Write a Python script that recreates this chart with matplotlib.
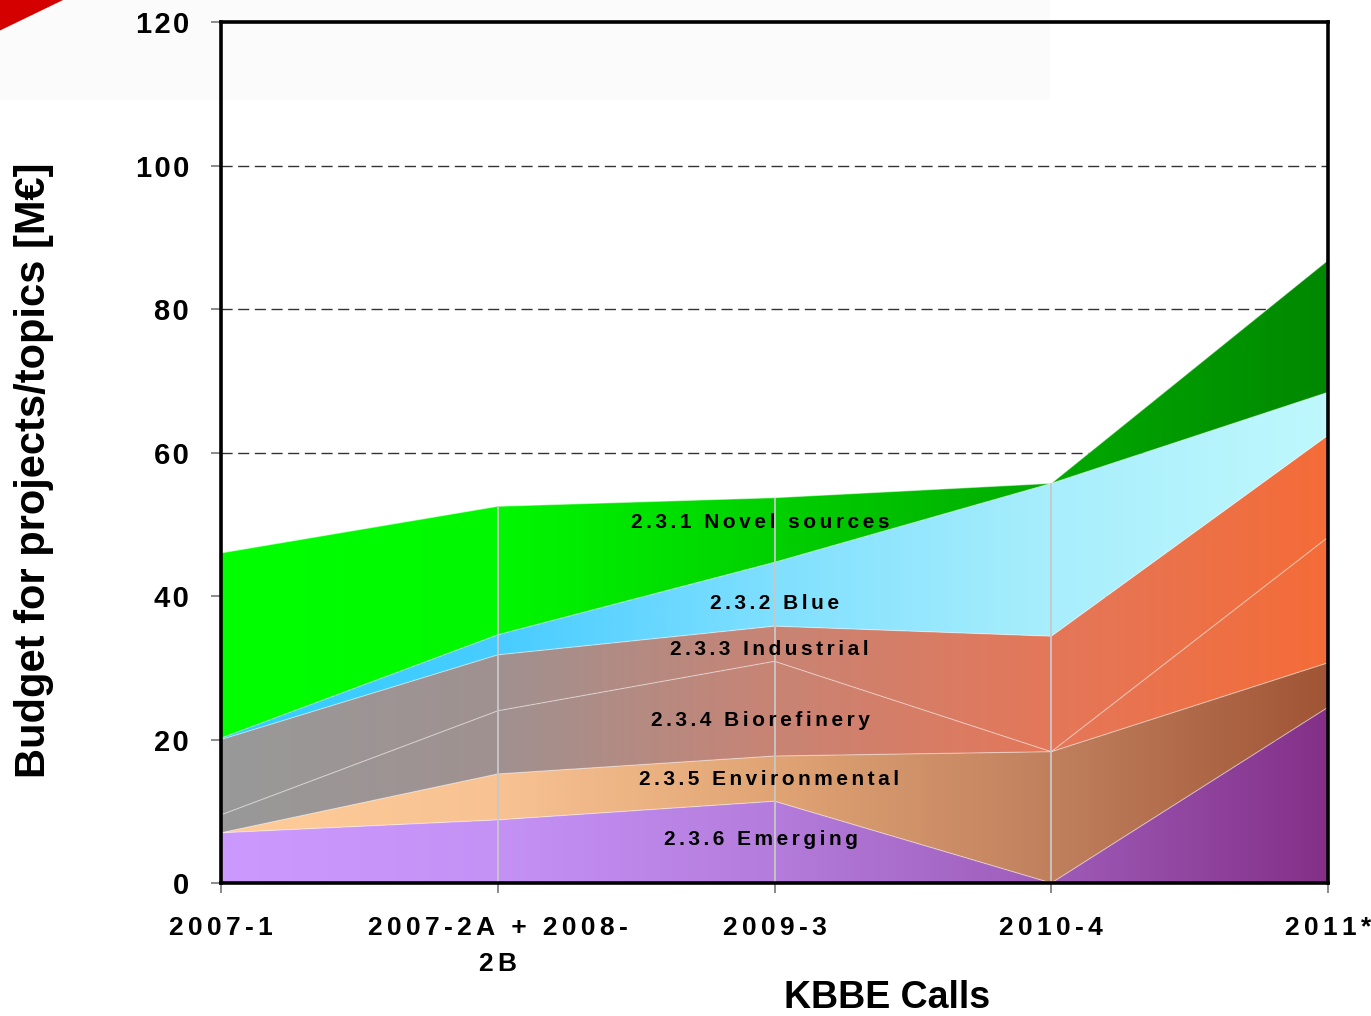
import numpy as np
import matplotlib
matplotlib.use("Agg")
import matplotlib.pyplot as plt
from matplotlib.colors import LinearSegmentedColormap
from matplotlib.patches import Polygon, Rectangle

plt.rcParams['font.family'] = ['Liberation Sans', 'DejaVu Sans']

# KBBE calls and budget per area (M EUR), stacked bottom -> top
calls = ["2007-1", "2007-2A + 2008-\n2B", "2009-3", "2010-4", "2011*"]
emerging      = [7.0, 8.8, 11.4, 0.0, 24.5]
environmental = [0.0, 6.4, 6.3, 18.3, 6.2]
biorefinery   = [2.5, 8.8, 13.2, 0.0, 17.5]
industrial    = [10.5, 7.8, 4.9, 16.1, 14.2]
blue          = [0.2, 2.8, 8.9, 21.3, 6.0]
novel         = [25.8, 17.9, 9.0, 0.0, 18.4]

labels = ["2.3.6 Emerging", "2.3.5 Environmental", "2.3.4 Biorefinery",
          "2.3.3 Industrial", "2.3.2 Blue", "2.3.1 Novel sources"]
label_pos = [(1.95, 6.0), (1.98, 14.4), (1.95, 22.7), (1.98, 32.6),
             (2.0, 38.9), (1.95, 50.3)]

# colour stops along the x axis for each layer
grad = [
    ['#cc99ff', '#c491f5', '#b47cdc', '#9e5cb8', '#843088'],
    ['#ffcc99', '#f8c292', '#e0a474', '#c0805e', '#a05535'],
    ['#999999', '#a09190', '#c88474', '#e4775a', '#f46c38'],
    ['#999999', '#a09190', '#c88474', '#e4775a', '#f46c38'],
    ['#33ccff', '#48ccff', '#80e0ff', '#a8eefc', '#bef8fc'],
    ['#00ff00', '#00f800', '#00d000', '#00aa00', '#008800'],
]

series = [emerging, environmental, biorefinery, industrial, blue, novel]
x = np.arange(len(calls))
tops = np.cumsum(np.array(series), axis=0)
bottoms = np.vstack([np.zeros(len(x)), tops[:-1]])

fig = plt.figure(figsize=(13.71, 10.16), dpi=100)
fig.patch.set_facecolor('white')
# slide decoration
fig.patches.append(Rectangle((0, 0.902), 0.766, 0.098, transform=fig.transFigure,
                             facecolor='#fbfbfb', edgecolor='none', zorder=-5))
fig.patches.append(Polygon([[0, 1], [0.046, 1], [0, 0.97]], closed=True,
                           transform=fig.transFigure, facecolor='#d40000',
                           edgecolor='none'))

ax = fig.add_axes([0.1612, 0.1309, 0.8075, 0.8474])
ax.set_facecolor('none')
ax.set_xlim(0, 4)
ax.set_ylim(0, 120)

for yv in [20, 40, 60, 80, 100]:
    ax.axhline(yv, color='#333333', lw=1, dashes=(8, 4), zorder=1)

for i in range(len(series)):
    poly = ax.fill_between(x, bottoms[i], tops[i], color='none', lw=0, zorder=2)
    cmap = LinearSegmentedColormap.from_list('g%d' % i, grad[i])
    img = ax.imshow(np.linspace(0, 1, 256).reshape(1, -1), cmap=cmap,
                    extent=[0, 4, 0, 120], aspect='auto', zorder=2,
                    interpolation='bilinear')
    img.set_clip_path(poly.get_paths()[0], transform=ax.transData)
    ax.plot(x, tops[i], color='white', lw=0.8, alpha=0.45, zorder=3)

ax.vlines([1, 2, 3], 0, tops[-1][1:4], color='#c8c8c8', lw=1.3, zorder=3)

def spaced(s, sep='\u2006'):
    return sep.join(s)

for lab, (lx, ly) in zip(labels, label_pos):
    ax.text(lx, ly, spaced(lab), ha='center', va='center', fontsize=15,
            fontweight='bold', color='black', zorder=5)

ax.set_yticks([0, 20, 40, 60, 80, 100, 120])
ax.set_yticklabels([spaced(str(v), '\u200a') for v in [0, 20, 40, 60, 80, 100, 120]],
                   fontsize=21, fontweight='bold')
ax.set_xticks(x)
ax.set_xticklabels(['\n'.join(spaced(p) for p in c.split('\n')) for c in calls],
                   fontsize=19, fontweight='bold', linespacing=1.6)
ax.tick_params(axis='y', length=7, width=1.2, color='#777777', pad=16)
ax.tick_params(axis='x', length=7, width=1.2, color='#777777', pad=17)

for s in ax.spines.values():
    s.set_linewidth(2.6)
    s.set_color('black')
    s.set_zorder(6)

fig.text(0.025, 0.537, "Budget for projects/topics [M€]", rotation=90,
         ha='center', va='center', fontsize=30, fontweight='bold')
fig.text(0.647, 0.008, "KBBE Calls", ha='center', va='baseline', fontsize=27,
         fontweight='bold')

fig.savefig('out.png', dpi=100)
